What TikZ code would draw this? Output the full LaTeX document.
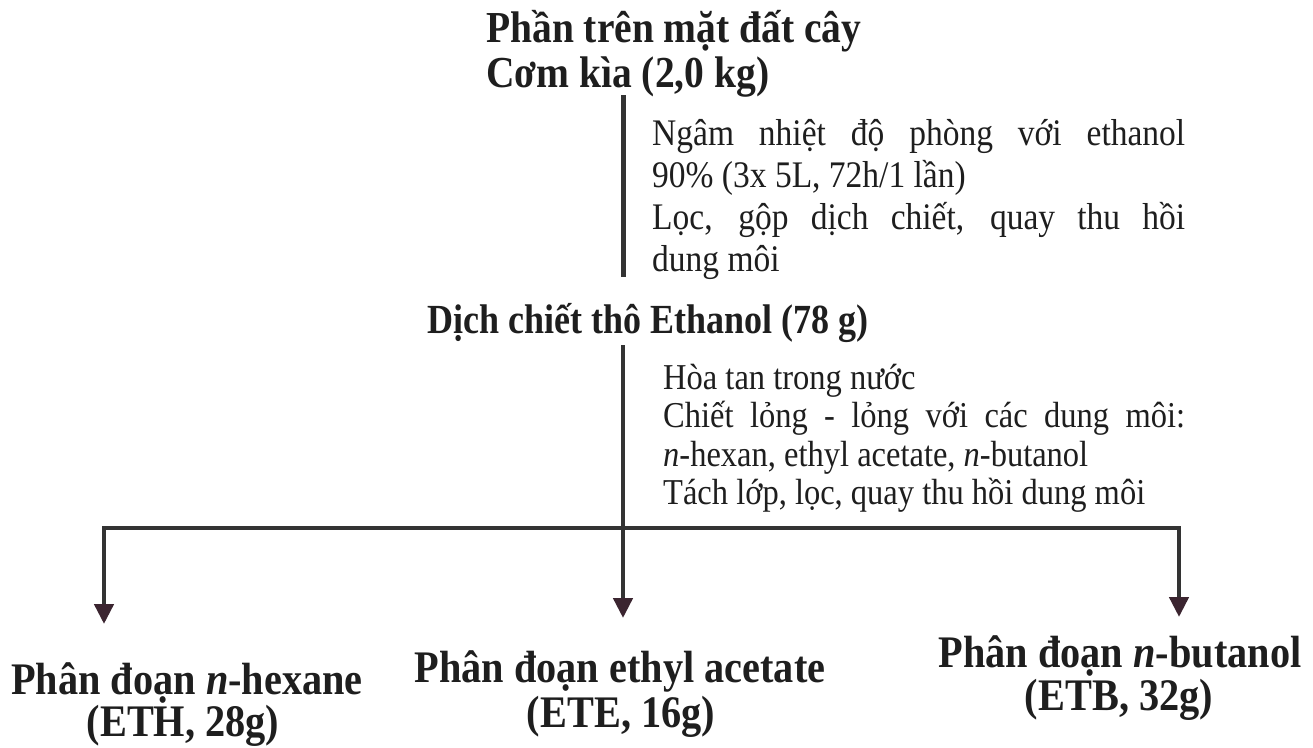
\documentclass[tikz,border=0pt]{standalone}
\usepackage{graphicx}
\usepackage{fontspec}
\setmainfont{Liberation Serif}
\usetikzlibrary{arrows.meta}
\definecolor{lnc}{HTML}{333333}
\definecolor{tipc}{HTML}{3B2530}
\definecolor{tx}{HTML}{1E1E1E}
\newcommand\vstretch[1]{\scalebox{1}[1.12]{#1}}
\newcommand\vstretchb[1]{\scalebox{1}[1.15]{#1}}
\begin{document}
\begin{tikzpicture}[x=1pt,y=-1pt,
  head/.style={font=\fontsize{39.5}{45}\selectfont\bfseries, text=tx, inner sep=0pt},
  frac/.style={font=\fontsize{40.3}{45}\selectfont\bfseries, text=tx, inner sep=0pt},
  sub/.style={font=\fontsize{36}{42}\selectfont\bfseries, text=tx, inner sep=0pt},
  note/.style={text=tx, inner sep=0pt},
  ln/.style={draw=lnc, line width=5pt},
  arr/.style={draw=lnc, line width=4.5pt, -{Triangle[width=19pt,length=20pt,color=tipc]}},
]
\useasboundingbox[fill=white] (0,0) rectangle (1313,747);

% top
\node[head, anchor=base west] (top1) at (486,42) {\vstretch{Phần trên mặt đất cây}};
\node[head, anchor=base west] (top2) at (486,87) {\vstretch{Cơm kìa (2,0 kg)}};

\coordinate (v1a) at (623,95);
\coordinate (v1b) at (623,277);
\draw[ln] (v1a) -- (v1b);

\node[note, anchor=base west, font=\fontsize{33.5}{37.5}\selectfont] (step1) at (652,145)
  {\vstretch{\parbox[t]{533pt}{Ngâm nhiệt độ phòng với ethanol\linebreak 90\% (3x 5L, 72h/1 lần)\\
   Lọc, gộp dịch chiết, quay thu hồi\linebreak dung môi}}};

\node[sub, anchor=base west] (dich) at (427,333) {\vstretchb{Dịch chiết thô Ethanol (78 g)}};

\node[note, anchor=base west, font=\fontsize{32.5}{34.4}\selectfont] (step2) at (663,389)
  {\vstretch{\parbox[t]{522pt}{Hòa tan trong nước\\
   Chiết lỏng - lỏng với các dung môi:\linebreak
   \textit{n}-hexan, ethyl acetate, \textit{n}-butanol\\
   \mbox{Tách lớp, lọc, quay thu hồi dung môi}}}};

\coordinate (v2a) at (623,345);
\coordinate (J) at (623,528);
\coordinate (t1) at (104,624);
\coordinate (t2) at (623,618);
\coordinate (t3) at (1179,617);

\draw[arr] (J) -| (t1);
\draw[arr] (J) -| (t3);
\draw[arr] (v2a) -- (t2);

% bottom
\node[frac, anchor=base] (f1a) at (187,694) {\vstretch{Phân đoạn \textit{n}-hexane}};
\node[frac, anchor=base] (f1b) at (183,736) {\vstretch{(ETH, 28g)}};
\node[frac, anchor=base] (f2a) at (620,682) {\vstretch{Phân đoạn ethyl acetate}};
\node[frac, anchor=base] (f2b) at (621,727) {\vstretch{(ETE, 16g)}};
\node[frac, anchor=base] (f3a) at (1120,667) {\vstretch{Phân đoạn \textit{n}-butanol}};
\node[frac, anchor=base] (f3b) at (1119,710) {\vstretch{(ETB, 32g)}};
\end{tikzpicture}
\end{document}
